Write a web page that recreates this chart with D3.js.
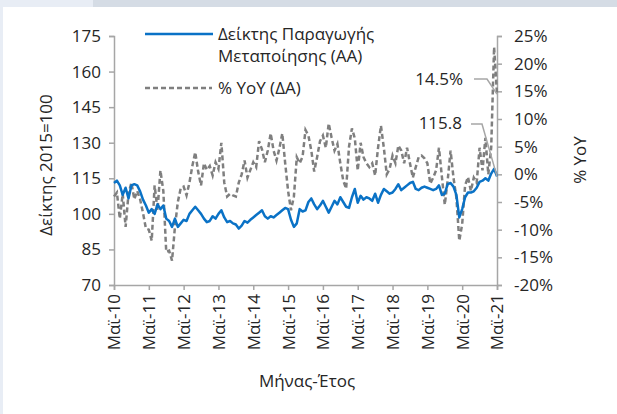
<!DOCTYPE html>
<html><head><meta charset="utf-8">
<script src="https://cdn.jsdelivr.net/npm/d3@7"></script>
<style>
html,body{margin:0;padding:0;background:#fff;}
text{font-family:"Open Sans","Noto Sans",sans-serif;fill:#262626;}
</style></head>
<body><svg id="c" width="617" height="414"></svg>
<script>
// Months from May 2010 to May 2021
const tickLabels = ["Μαϊ-10","Μαϊ-11","Μαϊ-12","Μαϊ-13","Μαϊ-14","Μαϊ-15","Μαϊ-16","Μαϊ-17","Μαϊ-18","Μαϊ-19","Μαϊ-20","Μαϊ-21"];
const indexValues = [
113,114,112,108,111,106.5,112,112.5,112,109.5,106,103.5,
100.5,102,100,104,102,103.5,98,97,94.5,98,94.5,96,
97.5,97,100,101.5,103,101.5,100,98,96.5,97,99,98,
100,101.5,98.5,96.5,97,96,95.5,93.8,95,97,96.3,97.5,
98.5,99.5,100.5,101.5,99,98,99,98.5,99.5,100.5,101.5,102.5,
102,97.5,94.5,96,102,101,101.5,105,106.5,104,102,103.5,
105.5,103,100.5,103,105.5,104,107,105,103,102.5,107,110.5,
104.7,107.6,106,107,106.5,105.5,108.5,104.7,108,110.5,109.5,108.5,
109,110.5,112.5,110,111,112,113,113.5,110.5,110,111,111.5,
111,110.5,110,110.5,112,108,108.5,112.5,113,111.5,108,98.5,
102,107,109,109,109.5,111,113.5,114,115,114,117,119,
115.8];
const yoyValues = [
-4,-3.3,-8,-3.5,-9.5,-3.5,-1.5,-4.5,-3,-4.5,-7,-9.8,
-10,-12,-2,-6.5,0.7,-3,-14,-13.8,-15.6,-9.5,-5,-2.5,
-2.2,-3.8,-1.5,1.5,4,0.5,-2,2,0.8,1.5,-0.2,2.2,
1,5.7,-1.5,-4,-3.5,-3.8,-4,-1.5,0,2.5,-0.6,0.8,
2.2,1.3,6,4.5,2.2,4.3,7.4,4.3,2.5,4.7,7.4,2,
-3,-6.5,-4,3.1,2,3.2,8,7,4.3,0.5,3.1,6,
7,4.8,9.2,6.6,4.3,5.5,2,-1.1,-2.6,5,8.3,6.5,
0.7,5.7,3.1,2,1.3,2,-0.2,4.8,8.8,4.8,0,1,
3.4,2,5.2,4.3,2,4.8,2,-0.6,1.3,3.1,3.4,2.9,
2,-1.7,-0.6,0.7,4.8,-0.4,-5.5,-1.1,4.3,-0.6,-4.2,-12,
-9,-2,-0.5,-3,-0.6,-1.5,4.8,0.7,6.6,0,4.8,23,
14.5];
const leftTicks = [70,85,100,115,130,145,160,175];
const rightTicks = [-20,-15,-10,-5,0,5,10,15,20,25];

const FS = "17px";
const svg = d3.select("#c");
// background frame
svg.append("rect").attr("x",0).attr("y",0).attr("width",617).attr("height",414).attr("fill","#fff");
svg.append("rect").attr("x",0).attr("y",0).attr("width",617).attr("height",7).attr("fill","#d5dce5");
svg.append("rect").attr("x",0).attr("y",0).attr("width",93).attr("height",7).attr("fill","#e8edf5");
svg.append("rect").attr("x",0).attr("y",0).attr("width",3).attr("height",414).attr("fill","#e8edf5");

const L = 114, R = 497, T = 36, B = 285;
const n = indexValues.length;
const x = d3.scaleLinear().domain([0, n-1]).range([L, R]);
const yL = d3.scaleLinear().domain([70,175]).range([B, T]);
const yR = d3.scaleLinear().domain([-20,25]).range([B, T]);

const axisColor = "#a6a6a6";
const gl = svg.append("g").attr("transform",`translate(${L},0)`)
  .call(d3.axisLeft(yL).tickValues(leftTicks).tickSize(5).tickPadding(8));
const gr = svg.append("g").attr("transform",`translate(${R},0)`)
  .call(d3.axisRight(yR).tickValues(rightTicks).tickSize(5).tickPadding(12).tickFormat(d=>d+"%"));
const tickIdx = tickLabels.map((_,i)=>i*12);
const gb = svg.append("g").attr("transform",`translate(0,${B})`)
  .call(d3.axisBottom(x).tickValues(tickIdx).tickSize(5).tickFormat((d,i)=>tickLabels[i]));
gb.selectAll(".tick text").attr("text-anchor","end").attr("transform","rotate(-90)")
  .attr("x",-9).attr("y",0).attr("dy","0.35em");
[gl,gr,gb].forEach(g=>{
  g.selectAll("path").attr("stroke",axisColor).attr("stroke-width",1.5);
  g.selectAll("line").attr("stroke",axisColor).attr("stroke-width",1.5);
  g.selectAll("text").style("font-size",FS).attr("fill","#262626");
});

const lineYoY = d3.line().x((d,i)=>x(i)).y(d=>yR(d));
const lineIdx = d3.line().x((d,i)=>x(i)).y(d=>yL(d));
svg.append("path").datum(yoyValues).attr("d",lineYoY).attr("fill","none")
  .attr("stroke","#7f7f7f").attr("stroke-width",2.5).attr("stroke-dasharray","5,3");
svg.append("path").datum(indexValues).attr("d",lineIdx).attr("fill","none")
  .attr("stroke","#0a72c6").attr("stroke-width",2.5).attr("stroke-linejoin","round");

// legend
svg.append("line").attr("x1",145).attr("x2",213).attr("y1",34).attr("y2",34)
  .attr("stroke","#0a72c6").attr("stroke-width",2.5);
svg.append("text").attr("x",218).attr("y",34).attr("dy","0.35em").style("font-size",FS).text("Δείκτης Παραγωγής");
svg.append("text").attr("x",218).attr("y",56).attr("dy","0.35em").style("font-size",FS).text("Μεταποίησης (ΑΑ)");
svg.append("line").attr("x1",145).attr("x2",212).attr("y1",88).attr("y2",88)
  .attr("stroke","#7f7f7f").attr("stroke-width",2.5).attr("stroke-dasharray","5,3");
svg.append("text").attr("x",218).attr("y",88).attr("dy","0.35em").style("font-size",FS).text("% YoY (ΔΑ)");

// annotations
const lastI = n-1;
svg.append("polyline").attr("points",`474,79 487,79 ${x(lastI)},${yR(yoyValues[lastI])}`)
  .attr("fill","none").attr("stroke","#a6a6a6").attr("stroke-width",1.5);
svg.append("text").attr("x",463).attr("y",79).attr("dy","0.35em").attr("text-anchor","end").style("font-size",FS).text(yoyValues[lastI]+"%");
svg.append("polyline").attr("points",`471,124 482,124 ${x(lastI)},${yL(indexValues[lastI])}`)
  .attr("fill","none").attr("stroke","#a6a6a6").attr("stroke-width",1.5);
svg.append("text").attr("x",462).attr("y",123).attr("dy","0.35em").attr("text-anchor","end").style("font-size",FS).text(indexValues[lastI].toFixed(1));

// axis titles
svg.append("text").attr("transform","translate(46,165) rotate(-90)").attr("text-anchor","middle").attr("dy","0.35em").style("font-size",FS).text("Δείκτης 2015=100");
svg.append("text").attr("transform","translate(580,160) rotate(-90)").attr("text-anchor","middle").attr("dy","0.35em").style("font-size",FS).text("% YoY");
svg.append("text").attr("x",307).attr("y",381).attr("text-anchor","middle").attr("dy","0.35em").style("font-size",FS).text("Μήνας-Έτος");
</script></body></html>
